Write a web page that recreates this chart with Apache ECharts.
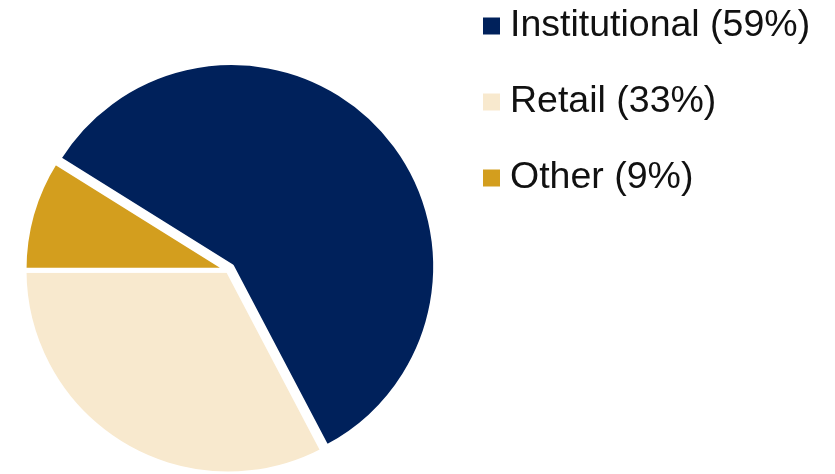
<!DOCTYPE html>
<html>
<head>
<meta charset="utf-8">
<script src="https://cdn.jsdelivr.net/npm/echarts@6/dist/echarts.min.js"></script>
<style>
  html, body { margin: 0; padding: 0; background: #fff; }
  #chart { width: 835px; height: 474px; }
</style>
</head>
<body>
<div id="chart"></div>
<script>
// chart data
const categories = ['Institutional', 'Retail', 'Other']
const shares = [59, 33, 9]
const colors = ['#00215B', '#F8E9CE', '#D39E1E']

const chart = echarts.init(document.getElementById('chart'))

const pieData = categories.map((name, i) => ({
  name: name,
  value: shares[i],
  selected: i === 0,
  itemStyle: { color: colors[i] }
}))

chart.setOption({
  animation: false,
  legend: {
    orient: 'vertical',
    left: 476,
    top: 1,
    itemWidth: 19,
    itemHeight: 19,
    itemGap: 36,
    icon: 'rect',
    selectedMode: false,
    formatter: (name) => {
      const i = categories.indexOf(name)
      return name + ' (' + shares[i] + '%)'
    },
    textStyle: {
      fontFamily: 'Liberation Sans, Arial, sans-serif',
      fontSize: 37.5,
      lineHeight: 40,
      color: '#111',
      padding: [0, 0, 0, 4]
    }
  },
  series: [
    {
      type: 'pie',
      center: [228, 270],
      radius: 204,
      startAngle: 148,
      clockwise: true,
      selectedMode: 'single',
      selectedOffset: 5,
      label: { show: false },
      labelLine: { show: false },
      emphasis: { disabled: true },
      itemStyle: { borderColor: '#fff', borderWidth: 5 },
      data: pieData
    }
  ]
})
</script>
</body>
</html>
